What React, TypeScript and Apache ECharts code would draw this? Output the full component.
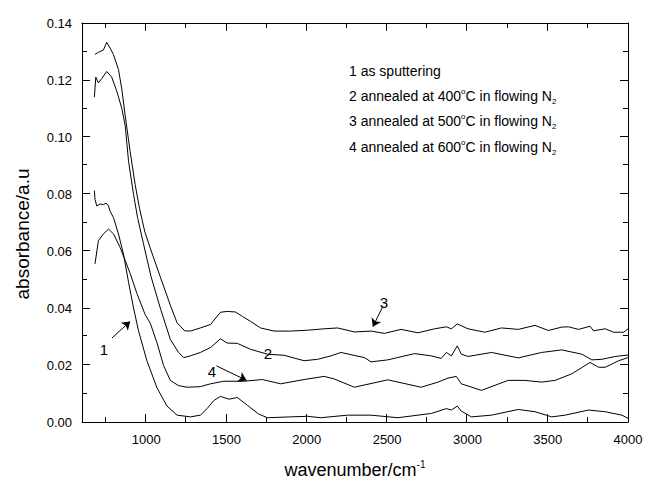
import React, { useEffect, useRef } from "react";
import * as echarts from "echarts";

// wavenumber (cm^-1), absorbance (a.u.)
const curve1: [number, number][] = [
  [677, 0.0812], [681, 0.0781], [692, 0.0758], [712, 0.0765], [733, 0.0763], [750, 0.0768], [765, 0.0758],
  [775, 0.074], [796, 0.0717], [827, 0.066], [858, 0.059], [890, 0.049], [921, 0.04], [952, 0.032],
  [1004, 0.0215], [1067, 0.012], [1129, 0.0056], [1192, 0.0024], [1275, 0.0018], [1337, 0.0024],
  [1379, 0.0047], [1420, 0.0075], [1462, 0.009], [1515, 0.008], [1567, 0.0086], [1629, 0.0059],
  [1700, 0.0028], [1754, 0.0015], [1900, 0.0018], [2004, 0.002], [2087, 0.0015], [2254, 0.0024],
  [2400, 0.0024], [2567, 0.0015], [2775, 0.003], [2869, 0.0047], [2900, 0.0042], [2937, 0.0056],
  [2962, 0.0038], [3025, 0.0018], [3150, 0.0024], [3317, 0.0044], [3421, 0.0036], [3525, 0.0018],
  [3608, 0.0024], [3754, 0.0042], [3858, 0.0036], [3962, 0.0024], [4000, 0.0013],
];
const curve2: [number, number][] = [
  [677, 0.114], [686, 0.121], [702, 0.119], [723, 0.1205], [754, 0.123], [785, 0.121], [817, 0.116],
  [848, 0.11], [869, 0.104], [890, 0.0914], [921, 0.0798], [946, 0.0717], [983, 0.0625], [1030, 0.051],
  [1090, 0.0395], [1150, 0.029], [1200, 0.0245], [1233, 0.0226], [1275, 0.0232], [1337, 0.0244],
  [1400, 0.0261], [1462, 0.0292], [1504, 0.0277], [1567, 0.0276], [1650, 0.0255], [1754, 0.0238],
  [1858, 0.0234], [1983, 0.0215], [2067, 0.022], [2150, 0.0232], [2212, 0.0244], [2358, 0.0226],
  [2400, 0.0211], [2504, 0.0218], [2671, 0.024], [2775, 0.0232], [2837, 0.0223], [2869, 0.0244],
  [2900, 0.0232], [2937, 0.0267], [2962, 0.0238], [3004, 0.023], [3150, 0.0244], [3317, 0.0225],
  [3462, 0.0244], [3587, 0.0253], [3712, 0.0238], [3775, 0.0218], [3837, 0.022], [3921, 0.023],
  [4000, 0.0235],
];
const curve3: [number, number][] = [
  [681, 0.129], [696, 0.1295], [712, 0.13], [733, 0.1305], [754, 0.1332], [775, 0.1312], [796, 0.1289],
  [827, 0.1237], [848, 0.1168], [869, 0.1075], [900, 0.0948], [931, 0.0833], [958, 0.075], [990, 0.067],
  [1025, 0.061], [1087, 0.051], [1150, 0.041], [1192, 0.0348], [1240, 0.032], [1275, 0.0319],
  [1337, 0.033], [1400, 0.0342], [1462, 0.0385], [1504, 0.0388], [1556, 0.0386], [1600, 0.037],
  [1650, 0.0353], [1712, 0.033], [1796, 0.0319], [1900, 0.0319], [2004, 0.0322], [2108, 0.0327],
  [2192, 0.033], [2296, 0.0316], [2400, 0.0319], [2483, 0.0311], [2587, 0.0325], [2692, 0.0313],
  [2796, 0.0327], [2869, 0.0334], [2900, 0.0327], [2937, 0.0344], [3004, 0.0327], [3108, 0.0315],
  [3212, 0.033], [3317, 0.0325], [3421, 0.0339], [3504, 0.0321], [3587, 0.0333], [3629, 0.0334],
  [3692, 0.0325], [3764, 0.0336], [3785, 0.032], [3858, 0.0327], [3910, 0.0315], [3973, 0.0315],
  [4000, 0.0327],
];
const curve4: [number, number][] = [
  [681, 0.0555], [702, 0.0636], [733, 0.066], [765, 0.0677], [796, 0.066], [837, 0.0613], [869, 0.0567],
  [900, 0.0521], [942, 0.0451], [994, 0.0376], [1025, 0.0347], [1067, 0.0278], [1108, 0.0198],
  [1150, 0.0146], [1200, 0.0128], [1254, 0.0122], [1337, 0.0124], [1400, 0.0134], [1483, 0.0143],
  [1608, 0.0143], [1723, 0.0149], [1837, 0.0134], [1983, 0.0149], [2108, 0.016], [2171, 0.0151],
  [2296, 0.0122], [2504, 0.0148], [2712, 0.0122], [2817, 0.014], [2879, 0.0154], [2931, 0.016],
  [2962, 0.0134], [3087, 0.0111], [3254, 0.0146], [3358, 0.0146], [3462, 0.014], [3546, 0.0146],
  [3650, 0.0169], [3764, 0.0209], [3817, 0.0192], [3858, 0.0192], [3942, 0.0215], [4000, 0.0226],
];

const X_MIN = 600;
const X_MAX = 4000;
const Y_MIN = 0;
const Y_MAX = 0.14;
const majorX = [1000, 1500, 2000, 2500, 3000, 3500];
const minorX = [750, 1250, 1750, 2250, 2750, 3250, 3750];
const labelX = [1000, 1500, 2000, 2500, 3000, 3500, 4000];
const majorY = [0.02, 0.04, 0.06, 0.08, 0.1, 0.12];
const minorY = [0.01, 0.03, 0.05, 0.07, 0.09, 0.11, 0.13];

// arrow annotations: [fromX, fromY, toX, toY]
const arrows: [number, number, number, number][] = [
  [787, 0.0295, 900, 0.0353],
  [1437, 0.0197, 1625, 0.0146],
  [2473, 0.0405, 2411, 0.0334],
];

const legendLines = [
  { num: "1", pre: "as sputtering", temp: "" },
  { num: "2", pre: "annealed at ", temp: "400" },
  { num: "3", pre: "annealed at ", temp: "500" },
  { num: "4", pre: "annealed at ", temp: "600" },
];

const FONT = "'Liberation Sans', Arial, sans-serif";

const GRID = { left: 82, right: 19, top: 23, bottom: 57 };
const W = 647;
const H = 484;

export default function App() {
  const ref = useRef<HTMLDivElement>(null);
  useEffect(() => {
    if (!ref.current) return;
    const chart = echarts.init(ref.current, undefined, { renderer: "svg" });
    const black = "#000";
    const axisLine = { show: true, onZero: false, lineStyle: { color: black, width: 1 } };

    const plotW = W - GRID.left - GRID.right;
    const plotH = H - GRID.top - GRID.bottom;
    const xPerPx = (X_MAX - X_MIN) / plotW;
    const yPerPx = (Y_MAX - Y_MIN) / plotH;
    const MAJ = 8;
    const MIN = 5;
    // snap ticks to the pixel grid so that they are drawn crisp
    const snapX = (v: number) => {
      const px = GRID.left + (v - X_MIN) / xPerPx;
      return X_MIN + (Math.round(px) - 0.5 - GRID.left) * xPerPx;
    };
    const snapY = (v: number) => {
      const py = GRID.top + (Y_MAX - v) / yPerPx;
      return Y_MAX - (Math.round(py) - 0.5 - GRID.top) * yPerPx;
    };

    const tickSegs: any[] = [];
    const addX = (v0: number, len: number) => {
      const v = snapX(v0);
      tickSegs.push([{ coord: [v, Y_MIN] }, { coord: [v, Y_MIN + len * yPerPx] }]);
      tickSegs.push([{ coord: [v, Y_MAX] }, { coord: [v, Y_MAX - len * yPerPx] }]);
    };
    const addY = (v0: number, len: number) => {
      const v = snapY(v0);
      tickSegs.push([{ coord: [X_MIN, v] }, { coord: [X_MIN + len * xPerPx, v] }]);
      tickSegs.push([{ coord: [X_MAX, v] }, { coord: [X_MAX - len * xPerPx, v] }]);
    };
    majorX.forEach((v) => addX(v, MAJ));
    minorX.forEach((v) => addX(v, MIN));
    majorY.forEach((v) => addY(v, MAJ));
    minorY.forEach((v) => addY(v, MIN));

    const xAxes: any[] = [
      {
        type: "value",
        min: X_MIN,
        max: X_MAX,
        position: "bottom",
        axisLine,
        axisTick: { show: false },
        axisLabel: {
          show: true,
          customValues: labelX,
          color: black,
          fontSize: 13,
          fontFamily: FONT,
          margin: 11,
          formatter: (v: number) => String(v),
        },
        splitLine: { show: false },
        name: "{a|wavenumber/cm}{b|-1}",
        nameLocation: "middle",
        nameGap: 37,
        nameTextStyle: {
          rich: {
            a: { fontSize: 18, fontFamily: FONT, color: black, lineHeight: 22 },
            b: { fontSize: 10, fontFamily: FONT, color: black, lineHeight: 12, verticalAlign: "top" },
          },
        },
      },
      {
        type: "value",
        min: X_MIN,
        max: X_MAX,
        position: "top",
        axisLine,
        axisTick: { show: false },
        axisLabel: { show: false },
        splitLine: { show: false },
      },
    ];
    const yAxes: any[] = [
      {
        type: "value",
        min: Y_MIN,
        max: Y_MAX,
        interval: 0.02,
        position: "left",
        axisLine,
        axisTick: { show: false },
        axisLabel: {
          show: true,
          color: black,
          fontSize: 13,
          fontFamily: FONT,
          margin: 10,
          formatter: (v: number) => v.toFixed(2),
        },
        splitLine: { show: false },
      },
      {
        type: "value",
        min: Y_MIN,
        max: Y_MAX,
        interval: 0.02,
        position: "right",
        axisLine,
        axisTick: { show: false },
        axisLabel: { show: false },
        splitLine: { show: false },
      },
    ];

    const mkSeries = (name: string, data: [number, number][]) => ({
      name,
      type: "line",
      data,
      xAxisIndex: 0,
      yAxisIndex: 0,
      symbol: "none",
      lineStyle: { color: black, width: 1 },
      silent: true,
    });

    const series: any[] = [
      mkSeries("1", curve1),
      mkSeries("2", curve2),
      mkSeries("3", curve3),
      mkSeries("4", curve4),
    ];
    series[0].markLine = {
      silent: true,
      symbol: ["none", "arrow"],
      symbolSize: 8,
      label: { show: false },
      lineStyle: { color: black, width: 1, type: "solid" },
      itemStyle: { color: black },
      data: arrows.map((a) => [{ coord: [a[0], a[1]] }, { coord: [a[2], a[3]] }]),
    };
    series[1].markLine = {
      silent: true,
      symbol: ["none", "none"],
      label: { show: false },
      lineStyle: { color: black, width: 1, type: "solid" },
      data: tickSegs,
    };

    const rich = {
      t: { fontSize: 14, fontFamily: FONT, fill: black, lineHeight: 18 },
      s: { fontSize: 8, fontFamily: FONT, fill: black, lineHeight: 9, verticalAlign: "top" },
      d: { fontSize: 8, fontFamily: FONT, fill: black, lineHeight: 9, verticalAlign: "bottom" },
    };
    const legendY = [71, 96, 121, 147];
    const graphic: any[] = legendLines.map((l, i) => ({
      type: "text",
      x: 349,
      y: legendY[i],
      silent: true,
      style: {
        text: l.temp
          ? `{t|${l.num} ${l.pre}${l.temp}}{s|o}{t|C in flowing N}{d|2}`
          : `{t|${l.num} ${l.pre}}`,
        rich,
        verticalAlign: "middle",
        fill: black,
      },
    }));
    const numLabels: [string, number, number][] = [
      ["1", 104, 349],
      ["2", 268, 353],
      ["4", 212, 371],
      ["3", 384, 302],
    ];
    numLabels.forEach(([t, x, y]) =>
      graphic.push({
        type: "text",
        x,
        y,
        silent: true,
        style: { text: t, font: `15px ${FONT}`, fill: black, align: "center", verticalAlign: "middle" },
      })
    );
    graphic.push({
      type: "text",
      x: 22,
      y: 234,
      rotation: Math.PI / 2,
      silent: true,
      style: {
        text: "absorbance/a.u",
        font: `19px ${FONT}`,
        fill: black,
        align: "center",
        verticalAlign: "middle",
      },
    });

    chart.setOption({
      animation: false,
      backgroundColor: "#fff",
      grid: { ...GRID, containLabel: false },
      xAxis: xAxes,
      yAxis: yAxes,
      series,
      graphic,
    });
    return () => chart.dispose();
  }, []);
  return <div ref={ref} style={{ width: W, height: H, position: "absolute", left: 0, top: 0 }} />;
}
